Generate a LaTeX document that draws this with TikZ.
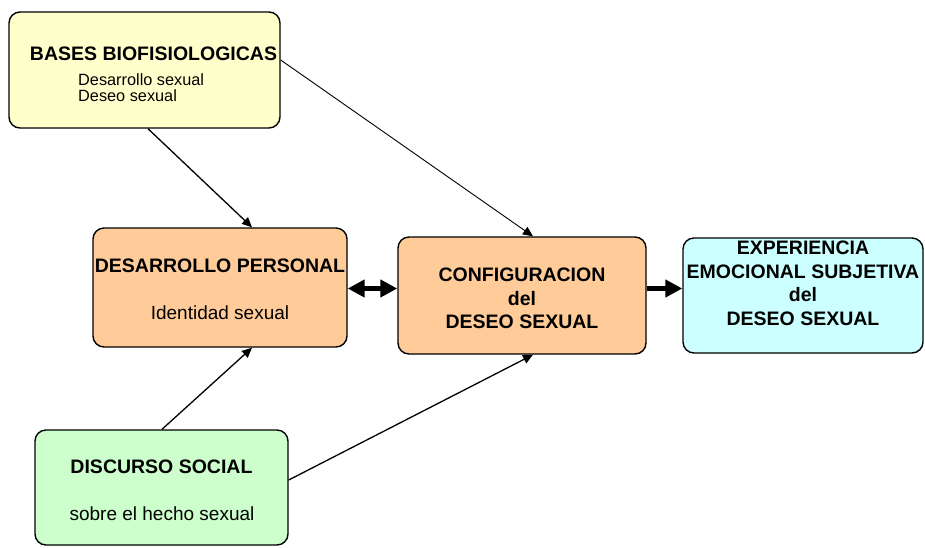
\documentclass[tikz,border=0pt]{standalone}
\usepackage{fontspec}
\setmainfont{Liberation Sans}
\usetikzlibrary{arrows.meta}

\begin{document}
\begin{tikzpicture}[x=1pt,y=-1pt,
    box/.style={draw,line width=1.4pt,rounded corners=11pt,inner sep=0pt},
    title/.style={font=\bfseries\fontsize{19.5}{23.5}\selectfont,inner sep=0pt,align=center},
    sub/.style={font=\fontsize{19}{23}\selectfont,inner sep=0pt},
    small/.style={font=\fontsize{16.3}{17}\selectfont,inner sep=0pt,anchor=base west},
    thin/.style={line width=1.3pt,-{Triangle[length=10pt,width=9pt]}},
    thick/.style={line width=4.5pt,-{Triangle[length=17pt,width=17pt]}}]
    \useasboundingbox (0,0) rectangle (925,547);
    % cajas
    \node[box,fill={rgb,255:red,255;green,255;blue,204},minimum width=271pt,minimum height=116pt] (bases) at (144.5,70) {};
    \node[box,fill={rgb,255:red,255;green,204;blue,153},minimum width=254pt,minimum height=119pt] (desarrollo) at (220,287.5) {};
    \node[box,fill={rgb,255:red,255;green,204;blue,153},minimum width=248pt,minimum height=117pt] (config) at (522,295.5) {};
    \node[box,fill={rgb,255:red,204;green,255;blue,255},minimum width=240pt,minimum height=115pt] (experiencia) at (803,295.5) {};
    \node[box,fill={rgb,255:red,204;green,255;blue,204},minimum width=253pt,minimum height=115pt] (discurso) at (161.5,487.5) {};
    % textos
    \node[title,anchor=base] (basesT) at (153.5,60) {BASES BIOFISIOLOGICAS};
    \node[small] (basesA) at (78,85) {Desarrollo sexual};
    \node[small] (basesB) at (78,101.5) {Deseo sexual};
    \node[title,anchor=base] (desarrolloT) at (220,272) {DESARROLLO PERSONAL};
    \node[sub,anchor=base] (desarrolloA) at (220,319) {Identidad sexual};
    \node[title,anchor=north] (configT) at (522,268) {CONFIGURACION\\del\\DESEO SEXUAL};
    \node[title,anchor=north] (experienciaT) at (803,241) {EXPERIENCIA\\EMOCIONAL SUBJETIVA\\del\\DESEO SEXUAL};
    \node[title,anchor=base] (discursoT) at (161.5,473) {DISCURSO SOCIAL};
    \node[sub,anchor=base] (discursoA) at (162,520) {sobre el hecho sexual};
    % flechas
    \draw[thin] ([xshift=3.5pt]bases.south) -- ([xshift=32pt]desarrollo.north);
    \draw[thin,line width=0.9pt] ([yshift=10pt]bases.east) -- ([xshift=11pt]config.north);
    \draw[thin] ([xshift=0.5pt]discurso.north) -- ([xshift=32pt]desarrollo.south);
    \draw[thin] ([yshift=7.5pt]discurso.east) -- ([xshift=11pt]config.south);
    \draw[thick,{Triangle[length=17pt,width=17pt]}-{Triangle[length=17pt,width=17pt]}] ([yshift=-1pt]desarrollo.east) -- ([yshift=7pt]config.west);
    \draw[thick] ([yshift=7pt]config.east) -- ([yshift=7pt]experiencia.west);
\end{tikzpicture}
\end{document}
